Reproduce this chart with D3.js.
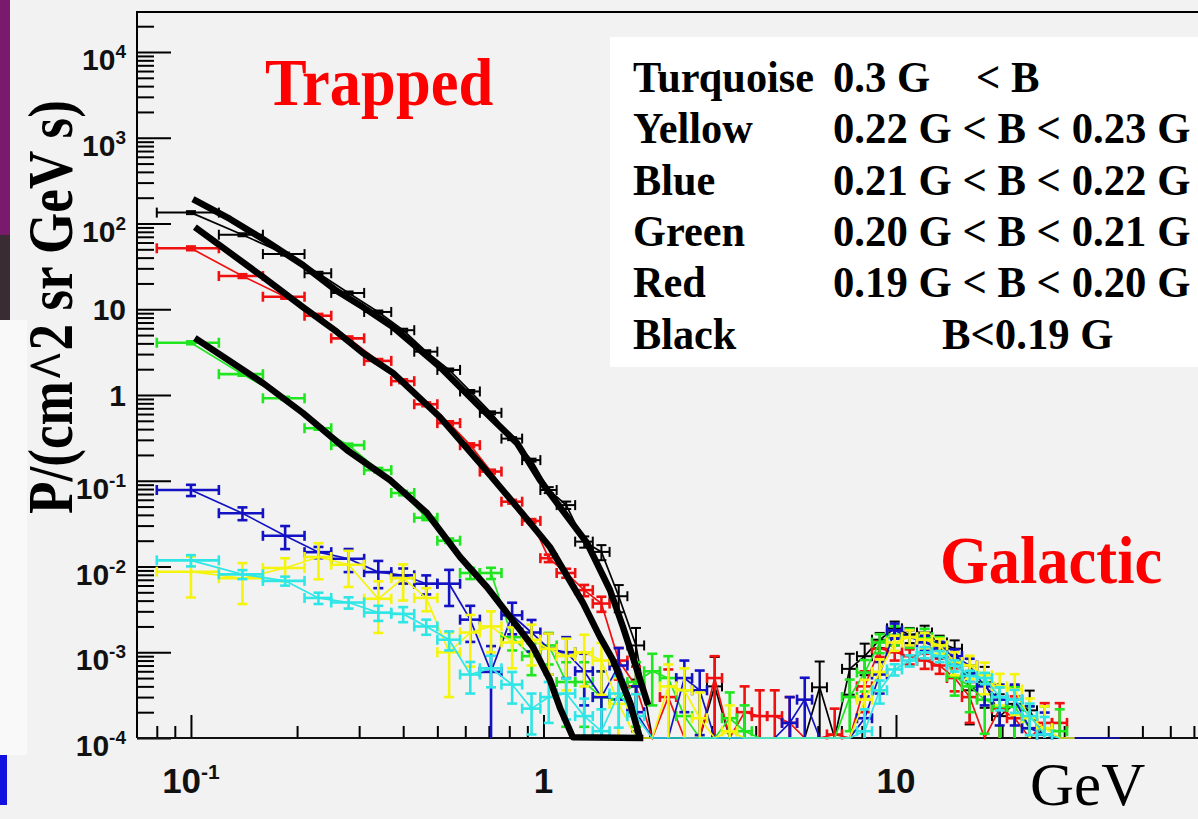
<!DOCTYPE html>
<html>
<head>
<meta charset="utf-8">
<script src="https://cdn.jsdelivr.net/npm/d3@7"></script>
<style>
  body { margin: 0; background: #f2f2f2; }
  svg { display: block; }
</style>
</head>
<body>
<svg id="chart"></svg>
<script>
const width = 1198;
const height = 819;

// plot frame
const frame = { left: 137, right: 1198, top: 12, bottom: 738 };

// bin edges in GeV (shared by all the spectra)
const binEdges = [0.08, 0.12, 0.16, 0.21, 0.25, 0.31, 0.37, 0.43, 0.50, 0.58, 0.66, 0.76, 0.87, 0.98, 1.09, 1.23,
  1.38, 1.54, 1.73, 1.93, 2.14, 2.38, 2.64, 2.91, 3.21, 3.54, 3.90, 4.31, 4.75, 5.24, 5.78, 6.37, 7.03, 7.75,
  8.55, 9.43, 10.4, 11.47, 12.65, 13.95, 15.39, 16.98, 18.72, 20.65, 22.78, 25.12, 27.71, 30.56, 33.71, 37.18, 41.0, 45.2];

// flux per bin (0 = empty bin, drawn on the floor), relative errors
const blackVals = [134, 74, 44, 26.3, 15.5, 9.3, 5.7, 3.2, 1.96, 1.1, 0.62, 0.31, 0.174, 0.078, 0.052, 0.0195, 0.0148, 0.0045, 0.0012,
  0, 0, 0, 0, 0.0004, 0, 0, 0, 0, 0, 0, 0.00039, 0, 0.00064, 0.0009, 0.0014, 0.0019, 0.0016, 0.0017, 0.0013, 0.0011,
  0.00036, 0.00045, 0.00018, 0.00025, 0.00021, 0, null, null, null, null, null];
const blackErr = [0.04, 0.04, 0.04, 0.04, 0.04, 0.04, 0.04, 0.04, 0.04, 0.04, 0.04, 0.04, 0.04, 0.08, 0.1, 0.15, 0.2, 0.35, 0.6,
  0, 0, 0, 0, 1.2, 0, 0, 0, 0, 0, 0, 1.0, 0, 0.5, 0.4, 0.2, 0.2, 0.2, 0.2, 0.2, 0.25,
  0.6, 0.5, 0.8, 0.6, 0.7, 0, null, null, null, null, null];

const redVals = [51.4, 24.4, 14.0, 8.4, 4.58, 2.5, 1.45, 0.78, 0.47, 0.26, 0.128, 0.057, 0.034, 0.0125, 0.0084, 0.0053, 0.0037, 0.0008, 0.0004,
  0, 0.0003, 0, 0, 0.0005, 0, 0.0002, 0.00018, 0.00018, 0.00015, 0, 0, 0.00011, 0, 0.0004, 0.0011, 0.001, 0.0009, 0.0008, 0.0007, 0.0005,
  0.0003, 0, 0.00022, 0.00017, 0, 0.00015, 0.00015, null, null, null, null];
const redErr = [0.05, 0.05, 0.05, 0.05, 0.05, 0.05, 0.05, 0.05, 0.05, 0.05, 0.05, 0.05, 0.05, 0.1, 0.12, 0.15, 0.2, 0.4, 0.7,
  0, 1.1, 0, 0, 0.8, 0, 1.0, 1.0, 1.0, 1.0, 0, 0, 1.0, 0, 0.5, 0.2, 0.2, 0.2, 0.2, 0.2, 0.3,
  0.5, 0, 0.8, 0.8, 0, 0.7, 0.7, null, null, null, null];

const greenVals = [4.07, 1.75, 0.915, 0.41, 0.26, 0.133, 0.072, 0.037, 0.02, 0.0084, 0.0084, 0.0015, 0.0009, 0.0012, 0.00045, 0.00045, 0.0003, 0.00028, 0.00045,
  0.0006, 0.0005, 0.00018, 0, 0, 0.00017, 0.00012, 0, 0, 0, 0, 0, 0, 0.0003, 0.00058, 0.0013, 0.0016, 0.0015, 0.0015, 0.0012, 0.00052,
  0.0004, 0.00028, 0.00023, 0.00023, 0.00013, 0.00013, 0.00012, null, null, null, null];
const greenErr = [0.04, 0.04, 0.04, 0.04, 0.04, 0.06, 0.06, 0.06, 0.06, 0.15, 0.15, 0.3, 0.4, 0.4, 0.7, 0.7, 1.0, 0.8, 0.7,
  0.6, 0.8, 1.0, 0, 0, 1.0, 1.0, 0, 0, 0, 0, 0, 0, 0.6, 0.4, 0.25, 0.25, 0.25, 0.25, 0.25, 0.4,
  0.5, 0.6, 0.7, 0.7, 0.8, 0.8, 0.8, null, null, null, null];

const blueVals = [0.078, 0.0418, 0.0228, 0.0147, 0.0123, 0.0086, 0.0079, 0.0063, 0.0063, 0.0024, 0.00059, 0.0027, 0.0017, 0.0011, 0.001, 0.0006, 0.0003, 0.0007, 0.0002,
  0, 0, 0.0005, 0.00036, 0, 0, 0, 0, 0, 0.00015, 0.00028, 0, 0, 0, 0.00017, 0.00055, 0.0018, 0.0015, 0.0013, 0.0011, 0.0009,
  0.0007, 0.0004, 0.00028, 0.00028, 0.00013, 0.00011, 0, 0, 0, 0, 0];
const blueErr = [0.15, 0.17, 0.3, 0.15, 0.3, 0.35, 0.2, 0.25, 0.45, 0.45, 1.0, 0.4, 0.4, 0.5, 0.5, 0.6, 1.0, 0.6, 1.0,
  0, 0, 0.6, 0.7, 0, 0, 0, 0, 0, 1.0, 0.8, 0, 0, 0, 0.8, 0.4, 0.2, 0.2, 0.2, 0.2, 0.2,
  0.2, 0.4, 0.5, 0.5, 0.8, 0.8, 0, 0, 0, 0, 0];

const yellowVals = [0.0087, 0.0073, 0.0096, 0.0129, 0.0105, 0.0042, 0.0073, 0.0043, 0.001, 0.0017, 0.002, 0.0013, 0.0014, 0.0011, 0.0009, 0.001, 0.0008, 0.00025, 0,
  0, 0.0004, 0.00036, 0.00017, 0, 0.00012, 0, 0, 0, 0, 0, 0, 0, 0, 0.00028, 0.00059, 0.0013, 0.0015, 0.0014, 0.0012, 0.00077,
  0.0007, 0.00054, 0.0004, 0.00037, 0.00017, 0.00013, 0, 0, null, null, null];
const yellowErr = [0.5, 0.5, 0.3, 0.45, 0.45, 0.6, 0.45, 0.3, 0.7, 0.6, 0.5, 0.5, 0.5, 0.5, 0.6, 0.6, 0.6, 1.0, 0,
  0, 0.8, 0.8, 1.0, 0, 1.0, 0, 0, 0, 0, 0, 0, 0, 0, 0.7, 0.4, 0.2, 0.2, 0.2, 0.2, 0.3,
  0.3, 0.4, 0.4, 0.5, 0.7, 0.8, 0, 0, null, null, null];

const turquoiseVals = [0.0118, 0.0081, 0.0068, 0.0043, 0.0038, 0.0029, 0.0028, 0.002, 0.0014, 0.00055, 0.00065, 0.00042, 0.00022, 0.0003, 0.00033, 0.00018, 0.00012, 0.00033, 0.00018,
  0, 0, 0, 0, 0, 0, 0, 0, 0, 0, 0, 0, 0, 0, 0.00012, 0.00036, 0.00063, 0.0008, 0.001, 0.0009, 0.0007,
  0.00053, 0.0005, 0.0003, 0.00028, 0.00018, 0.00011, 0, null, null, null, null];
const turquoiseErr = [0.15, 0.12, 0.12, 0.15, 0.15, 0.2, 0.2, 0.2, 0.25, 0.4, 0.4, 0.4, 0.5, 0.5, 0.5, 0.6, 0.8, 0.6, 0.8,
  0, 0, 0, 0, 0, 0, 0, 0, 0, 0, 0, 0, 0, 0, 0.8, 0.3, 0.15, 0.15, 0.15, 0.15, 0.15,
  0.15, 0.15, 0.3, 0.3, 0.4, 0.6, 0, null, null, null, null];

// fitted trapped spectra (thick black curves)
const fitUpperE = [0.1013, 0.129, 0.160, 0.2078, 0.2596, 0.3075, 0.374, 0.5085, 0.660, 0.841, 0.977, 1.114, 1.329, 1.544, 1.681, 1.842, 1.980];
const fitUpperF = [193, 113, 65.9, 32.8, 16.3, 10.6, 6.21, 2.12, 0.724, 0.275, 0.102, 0.0494, 0.0188, 0.00532, 0.00197, 0.00062, 0.000243];
const fitMiddleE = [0.1026, 0.160, 0.2078, 0.2596, 0.3075, 0.374, 0.5085, 0.660, 0.841, 1.043, 1.295, 1.446, 1.575, 1.760, 1.878];
const fitMiddleF = [91.0, 23.8, 10.6, 5.43, 3.09, 1.81, 0.553, 0.161, 0.0494, 0.01687, 0.00375, 0.00151, 0.000812, 0.000256, 0.0001];
const fitLowerE = [0.1026, 0.160, 0.2078, 0.277, 0.3668, 0.467, 0.580, 0.691, 0.804, 0.934, 1.043, 1.114, 1.212, 1.92];
const fitLowerF = [4.62, 1.38, 0.617, 0.2285, 0.102, 0.0421, 0.0129, 0.00577, 0.00258, 0.00115, 0.000475, 0.000224, 0.000102, 0.0001];

// axis ticks
const yMajor = [1e-4, 1e-3, 1e-2, 1e-1, 1, 10, 100, 1000, 10000];
const yTickLabels = [["10", "-4"], ["10", "-3"], ["10", "-2"], ["10", "-1"], ["1", ""], ["10", ""], ["10", "2"], ["10", "3"], ["10", "4"]];
const xMajor = [0.1, 1, 10];
const xTickLabels = [["10", "-1"], ["1", ""], ["10", ""]];

// legend
const legendNames = ["Turquoise", "Yellow", "Blue", "Green", "Red", "Black"];
const legendRanges = ["0.3 G", "0.22 G < B < 0.23 G", "0.21 G < B < 0.22 G", "0.20 G < B < 0.21 G", "0.19 G < B < 0.20 G", "B<0.19 G"];

const serif = '"Liberation Serif", "Times New Roman", serif';
const sans = '"Liberation Sans", Arial, sans-serif';

const svg = d3.select("#chart").attr("width", width).attr("height", height);

svg.append("rect").attr("width", width).attr("height", height).attr("fill", "#f2f2f2");

// bits of the slide at the left edge
svg.append("rect").attr("x", 0).attr("y", 0).attr("width", 10).attr("height", 235).attr("fill", "#7a1a6c");
svg.append("rect").attr("x", 0).attr("y", 235).attr("width", 10).attr("height", 85).attr("fill", "#3a2c33");
svg.append("rect").attr("x", 0).attr("y", 320).attr("width", 27).attr("height", 435).attr("fill", "#f8f9f8");
svg.append("rect").attr("x", 0).attr("y", 755).attr("width", 7).attr("height", 50).attr("fill", "#1212e0");

const x = d3.scaleLog().domain([0.0703, 71.9]).range([frame.left, frame.right]);
const y = d3.scaleLog().domain([1e-4, 29280]).range([frame.bottom, frame.top]);

const floorV = 1e-4;
const yc = (v) => y(Math.max(v, floorV));

// minor ticks 2..9 per decade
const minorTicks = (lo, hi) => {
  const out = [];
  for (let e = lo; e <= hi; e++) for (let k = 2; k <= 9; k++) out.push(k * Math.pow(10, e));
  return out;
};
const yMinor = minorTicks(-4, 4).filter((v) => v < 29280);
const xMinor = minorTicks(-2, 1).filter((v) => v > 0.0703 && v < 71.9);

// axes (ticks point into the frame)
svg.append("g")
  .attr("transform", `translate(${frame.left},0)`)
  .call(d3.axisLeft(y).tickValues(yMinor).tickSize(-17).tickSizeOuter(0).tickFormat(""))
  .call((g) => g.select(".domain").remove());
svg.append("g")
  .attr("transform", `translate(${frame.left},0)`)
  .call(d3.axisLeft(y).tickValues(yMajor).tickSize(-34).tickSizeOuter(0).tickFormat(""))
  .call((g) => g.select(".domain").remove());
svg.append("g")
  .attr("transform", `translate(0,${frame.bottom})`)
  .call(d3.axisBottom(x).tickValues(xMinor).tickSize(-12).tickSizeOuter(0).tickFormat(""))
  .call((g) => g.select(".domain").remove());
svg.append("g")
  .attr("transform", `translate(0,${frame.bottom})`)
  .call(d3.axisBottom(x).tickValues(xMajor).tickSize(-23).tickSizeOuter(0).tickFormat(""))
  .call((g) => g.select(".domain").remove());
svg.selectAll(".tick line").attr("stroke", "#000").attr("stroke-width", 2);

// frame
svg.append("path")
  .attr("d", `M${frame.left},${frame.bottom}V${frame.top}H${frame.right + 5}`)
  .attr("fill", "none").attr("stroke", "#000").attr("stroke-width", 2);
svg.append("line")
  .attr("x1", frame.left).attr("x2", frame.right + 5)
  .attr("y1", frame.bottom).attr("y2", frame.bottom)
  .attr("stroke", "#111").attr("stroke-width", 2.2);

// tick labels
yMajor.forEach((v, i) => {
  const [base, sup] = yTickLabels[i];
  const t = svg.append("text")
    .attr("x", 126)
    .attr("y", y(v) + (sup ? 18 : 11))
    .attr("text-anchor", "end")
    .style("font-family", sans).style("font-weight", "bold").style("font-size", "30px")
    .attr("fill", "#111");
  t.append("tspan").text(base);
  if (sup) t.append("tspan").attr("dy", -12).style("font-size", "19px").text(sup);
});
xMajor.forEach((v, i) => {
  const [base, sup] = xTickLabels[i];
  const t = svg.append("text")
    .attr("x", x(v))
    .attr("y", 793)
    .attr("text-anchor", "middle")
    .style("font-family", sans).style("font-weight", "bold").style("font-size", "35px")
    .attr("fill", "#111");
  t.append("tspan").text(base);
  if (sup) t.append("tspan").attr("dy", -14).style("font-size", "21px").text(sup);
});

// data
svg.append("clipPath").attr("id", "plotclip")
  .append("rect").attr("x", frame.left).attr("y", frame.top)
  .attr("width", frame.right - frame.left + 5).attr("height", frame.bottom - frame.top + 4);
const plot = svg.append("g").attr("clip-path", "url(#plotclip)");

const bins = binEdges.slice(0, -1).map((lo, i) => ({ lo: lo, hi: binEdges[i + 1], c: (lo + binEdges[i + 1]) / 2 }));

const series = [
  { vals: blackVals, err: blackErr, color: "#000000", w: 2.0 },
  { vals: redVals, err: redErr, color: "#f01010", w: 2.6 },
  { vals: greenVals, err: greenErr, color: "#20e620", w: 2.6 },
  { vals: blueVals, err: blueErr, color: "#1212c4", w: 2.6 },
  { vals: yellowVals, err: yellowErr, color: "#f4f40c", w: 2.6 },
  { vals: turquoiseVals, err: turquoiseErr, color: "#2ee6e6", w: 2.6 },
];

const cap = 5;
const line = d3.line().x((d) => x(d.c)).y((d) => yc(d.v));

series.forEach((s) => {
  const pts = s.vals
    .map((v, i) => ({ lo: bins[i].lo, hi: bins[i].hi, c: bins[i].c, v: v, e: s.err[i] }))
    .filter((d) => d.v !== null);
  const g = plot.append("g").attr("stroke", s.color).attr("fill", "none");

  g.append("path").attr("d", line(pts)).attr("stroke-width", 1.7);

  pts.filter((d) => d.v > 0).forEach((d) => {
    const py = yc(d.v);
    const x0 = x(d.lo), x1 = x(d.hi), xc = x(d.c);
    g.append("line").attr("x1", x0).attr("x2", x1).attr("y1", py).attr("y2", py).attr("stroke-width", s.w);
    g.append("line").attr("x1", x0).attr("x2", x0).attr("y1", py - cap).attr("y2", py + cap).attr("stroke-width", s.w);
    g.append("line").attr("x1", x1).attr("x2", x1).attr("y1", py - cap).attr("y2", py + cap).attr("stroke-width", s.w);
    if (d.e > 0) {
      const top = yc(d.v * (1 + d.e));
      const lowV = d.v * (1 - d.e);
      const bot = lowV > floorV ? yc(lowV) : frame.bottom;
      g.append("line").attr("x1", xc).attr("x2", xc).attr("y1", top).attr("y2", bot).attr("stroke-width", s.w);
      g.append("line").attr("x1", xc - cap).attr("x2", xc + cap).attr("y1", top).attr("y2", top).attr("stroke-width", s.w);
      if (lowV > floorV) {
        g.append("line").attr("x1", xc - cap).attr("x2", xc + cap).attr("y1", bot).attr("y2", bot).attr("stroke-width", s.w);
      }
    }
  });
});

// fitted curves
const fitLine = d3.line().x((d) => x(d[0])).y((d) => Math.min(yc(d[1]), frame.bottom + 2));
[[fitUpperE, fitUpperF], [fitMiddleE, fitMiddleF], [fitLowerE, fitLowerF]].forEach(([es, fs]) => {
  plot.append("path")
    .attr("d", fitLine(es.map((e, i) => [e, fs[i]])))
    .attr("fill", "none").attr("stroke", "#000").attr("stroke-width", 6.5)
    .attr("stroke-linejoin", "round");
});

// labels inside the plot
svg.append("text")
  .attr("transform", "translate(265,105) scale(0.92,1)")
  .style("font-family", serif).style("font-weight", "bold").style("font-size", "68px")
  .attr("fill", "#ff0000").text("Trapped");
svg.append("text")
  .attr("transform", "translate(940,583) scale(0.92,1)")
  .style("font-family", serif).style("font-weight", "bold").style("font-size", "68px")
  .attr("fill", "#ff0000").text("Galactic");

// legend box
svg.append("rect").attr("x", 610).attr("y", 37).attr("width", 600).attr("height", 330).attr("fill", "#ffffff");
legendNames.forEach((name, i) => {
  const base = 92 + i * 51.3;
  svg.append("text")
    .attr("transform", `translate(633,${base}) scale(0.94,1)`)
    .style("font-family", serif).style("font-weight", "bold").style("font-size", "45px")
    .attr("fill", "#000").text(name);
  svg.append("text")
    .attr("transform", `translate(${i === 5 ? 942 : 833},${base}) scale(0.95,1)`)
    .style("font-family", serif).style("font-weight", "bold").style("font-size", "45px")
    .attr("fill", "#000").text(legendRanges[i]);
});
svg.append("text")
  .attr("transform", "translate(976,92) scale(0.95,1)")
  .style("font-family", serif).style("font-weight", "bold").style("font-size", "45px")
  .attr("fill", "#000").text("< B");

// axis titles
svg.append("text")
  .attr("transform", "translate(72,307) rotate(-90) scale(0.83,1)")
  .attr("text-anchor", "middle")
  .style("font-family", serif).style("font-weight", "bold").style("font-size", "64px")
  .attr("fill", "#000").text("P/(cm^2 sr GeV s)");
svg.append("text")
  .attr("x", 1030).attr("y", 805)
  .style("font-family", serif).style("font-size", "61px")
  .attr("fill", "#000").text("GeV");
</script>
</body>
</html>
